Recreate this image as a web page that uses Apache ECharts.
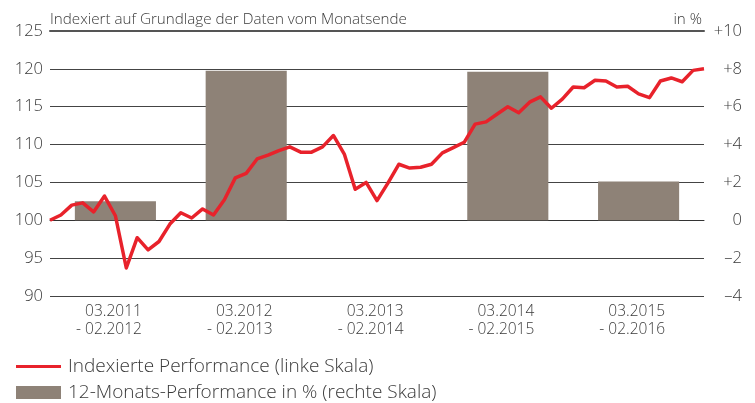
<!DOCTYPE html>
<html>
<head>
<meta charset="utf-8">
<script src="https://cdn.jsdelivr.net/npm/echarts@6/dist/echarts.min.js"></script>
<style>
html,body{margin:0;padding:0;background:#fff;}
#chart{width:755px;height:403px;}
</style>
</head>
<body>
<div id="chart"></div>
<script>
// Period categories (bars)
const periodStart = ['03.2011', '03.2012', '03.2013', '03.2014', '03.2015'];
const periodEnd   = ['02.2012', '02.2013', '02.2014', '02.2015', '02.2016'];
// 12-month performance in % (right scale)
const barValues = [1.0, 7.9, 0, 7.85, 2.05];

// Month-end index (left scale), 02.2011 .. 02.2016
const indexValues = [
  100.0, 100.7, 102.0, 102.3, 101.1, 103.2, 100.6, 93.7, 97.7, 96.1,
  97.2, 99.5, 101.0, 100.3, 101.5, 100.7, 102.7, 105.6, 106.2, 108.1,
  108.6, 109.2, 109.7, 109.0, 109.0, 109.7, 111.2, 108.75, 104.1, 105.0,
  102.6, 104.9, 107.4, 106.9, 107.0, 107.4, 108.9, 109.6, 110.3, 112.7,
  113.0, 114.0, 115.0, 114.2, 115.6, 116.3, 114.8, 116.0, 117.6, 117.5,
  118.5, 118.4, 117.6, 117.7, 116.7, 116.2, 118.4, 118.8, 118.3, 119.8,
  120.0
];
// Month labels for the line axis
const monthLabels = [];
for (let i = 0; i < indexValues.length; i++) {
  const m = (1 + i) % 12 + 1;
  const y = 2011 + Math.floor((1 + i) / 12);
  monthLabels.push((m < 10 ? '0' : '') + m + '.' + y);
}

const leftTicks = {min: 90, max: 125, interval: 5};
const rightTicks = {min: -4, max: 10, interval: 2};

const lineName = 'Indexierte Performance (linke Skala)';
const barName = '12-Monats-Performance in % (rechte Skala)';
const titleText = 'Indexiert auf Grundlage der Daten vom Monatsende';
const unitText = 'in %';

const FONT = '"Open Sans", "Noto Sans", sans-serif';
const TXT = '#3a3a3a';

const chart = echarts.init(document.getElementById('chart'), null, {renderer: 'canvas'});
chart.setOption({
  animation: false,
  backgroundColor: '#fff',
  textStyle: {fontFamily: FONT},
  title: [
    {text: titleText, left: 50, top: 11, padding: 0,
     textStyle: {fontFamily: FONT, fontSize: 15.2, fontWeight: 300, color: TXT, lineHeight: 18}},
    {text: unitText, right: 53, top: 11, padding: 0,
     textStyle: {fontFamily: FONT, fontSize: 15.2, fontWeight: 300, color: TXT, lineHeight: 18}}
  ],
  grid: {left: 50, right: 51, top: 31, bottom: 107, containLabel: false},
  legend: [
    {data: [{name: lineName, icon: 'rect'}], left: 16, top: 356.5, padding: 0,
     itemWidth: 45, itemHeight: 3, selectedMode: false,
     textStyle: {fontFamily: FONT, fontSize: 19, fontWeight: 300, color: TXT, lineHeight: 20, padding: [0, 0, 0, 2]}},
    {data: [{name: barName, icon: 'rect'}], left: 16, top: 382.5, padding: 0,
     itemWidth: 45, itemHeight: 13, selectedMode: false,
     textStyle: {fontFamily: FONT, fontSize: 19, fontWeight: 300, color: TXT, lineHeight: 20, padding: [0, 0, 0, 2]}}
  ],
  xAxis: [
    {type: 'category', data: periodStart, position: 'bottom', boundaryGap: true,
     axisLine: {show: true, lineStyle: {color: '#333', width: 1}},
     axisTick: {show: false},
     axisLabel: {
       margin: 7, interval: 0, align: 'center',
       formatter: function (v, i) { return '{a|' + v + '}\n{a|- ' + periodEnd[i] + '}'; },
       rich: {a: {width: 53, align: 'right', fontFamily: FONT, fontSize: 15.5, fontWeight: 300, color: TXT, lineHeight: 18}}
     },
     splitLine: {show: false}},
    {type: 'category', data: monthLabels, boundaryGap: false, show: false},
    {type: 'category', data: periodStart, position: 'top',
     axisLine: {show: true, lineStyle: {color: '#555', width: 2}},
     axisTick: {show: false}, axisLabel: {show: false}, splitLine: {show: false}}
  ],
  yAxis: [
    {type: 'value', position: 'left', min: leftTicks.min, max: leftTicks.max, interval: leftTicks.interval,
     axisLine: {show: false}, axisTick: {show: false},
     axisLabel: {margin: 7, fontFamily: FONT, fontSize: 16.5, fontWeight: 300, color: TXT},
     splitLine: {show: true, lineStyle: {color: '#444', width: 1}}},
    {type: 'value', position: 'right', min: rightTicks.min, max: rightTicks.max, interval: rightTicks.interval,
     axisLine: {show: false}, axisTick: {show: false},
     axisLabel: {margin: 38, align: 'right', fontFamily: FONT, fontSize: 16.5, fontWeight: 300, color: TXT,
       formatter: function (v) { return v > 0 ? '+' + v : (v < 0 ? '\u2013' + Math.abs(v) : '0'); }},
     splitLine: {show: false}}
  ],
  series: [
    {name: barName, type: 'bar', xAxisIndex: 0, yAxisIndex: 1, data: barValues,
     barWidth: '62%', itemStyle: {color: '#8E8277'}, z: 2},
    {name: lineName, type: 'line', xAxisIndex: 1, yAxisIndex: 0, data: indexValues,
     symbol: 'none', smooth: false, lineStyle: {color: '#E8222B', width: 3.5, join: 'round'},
     itemStyle: {color: '#E8222B'}, z: 5}
  ]
});
</script>
</body>
</html>
